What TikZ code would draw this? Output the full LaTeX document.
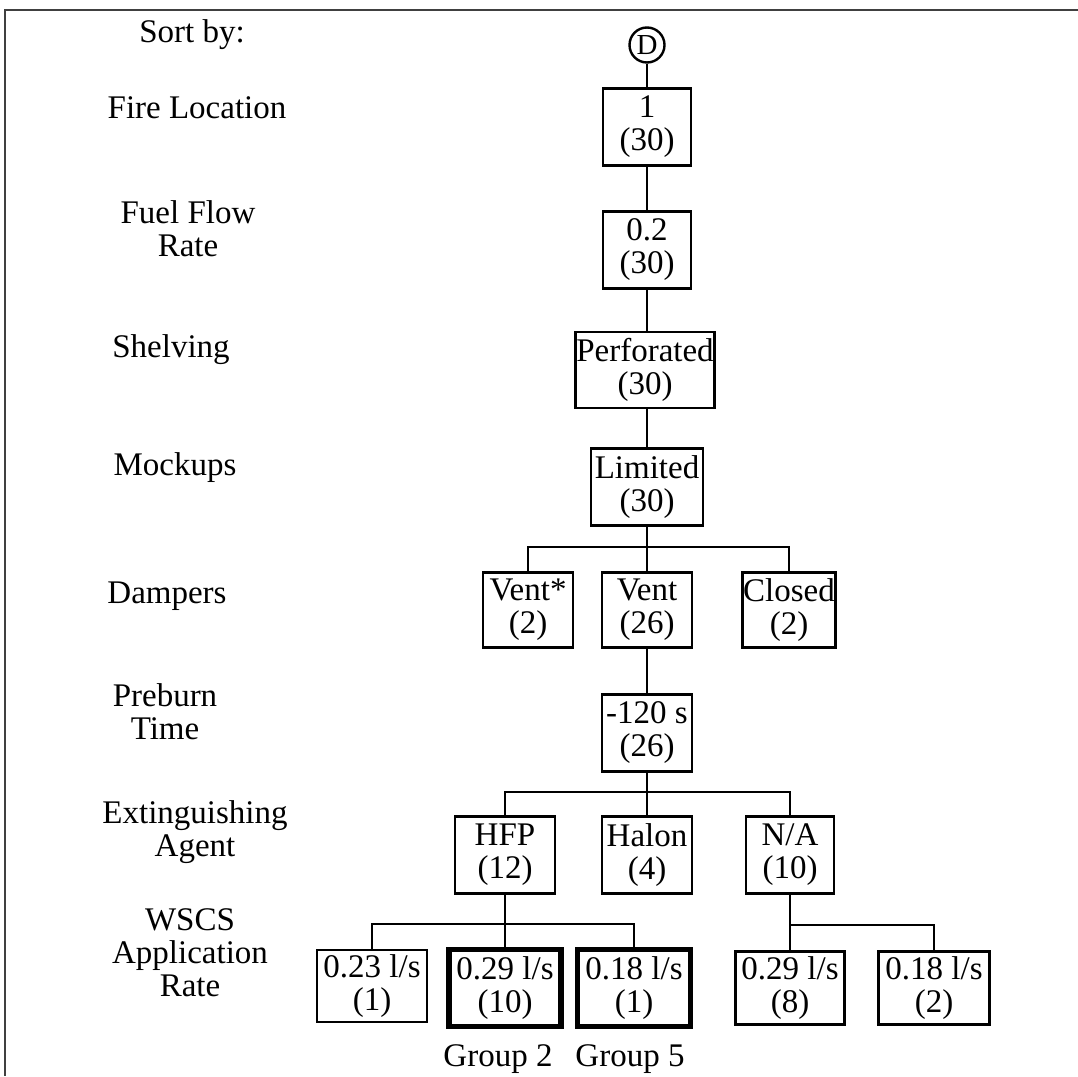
\documentclass[tikz,border=0pt]{standalone}
\usepackage{fontspec}
\setmainfont{Liberation Serif}
\usetikzlibrary{positioning}
\tikzset{box/.style={draw,line width=2.8pt,align=center,inner sep=0pt,minimum height=76pt},pick/.style={box,line width=5.5pt},cat/.style={align=center,inner sep=0pt},link/.style={line width=2.8pt}}

\begin{document}
\begin{tikzpicture}[x=1pt,y=-1pt,font=\fontsize{33}{33}\selectfont]
\useasboundingbox (0,0) rectangle (1078,1076);
\draw[line width=2.5pt,black!75] (1078,10) -- (5,10) -- (5,1076);
% sort criteria
\node[cat] (sort) at (192,35) {Sort by:};
\node[cat] (fire) at (197,108) {Fire Location};
\node[cat] (fuel) at (188,229) {Fuel Flow\\Rate};
\node[cat] (shelving) at (171,350) {Shelving};
\node[cat] (mockups) at (175,468) {Mockups};
\node[cat] (dampers) at (167,596) {Dampers};
\node[cat] (preburn) at (165,712) {Preburn\\Time};
\node[cat] (agent) at (195,832) {Extinguishing\\Agent};
\node[cat] (wscs) at (190,953) {WSCS\\Application\\Rate};
% tree
\node[draw,circle,line width=2.4pt,minimum size=35pt,inner sep=0pt,font=\fontsize{29}{29}\selectfont] (d) at (647,45) {D};
\node[box,minimum width=88pt,minimum height=77pt] (loc) at (647,127) {1\\(30)};
\node[box,minimum width=88pt,minimum height=77pt] (flow) at (647,250) {0.2\\(30)};
\node[box,minimum width=139pt] (shelf) at (645,370) {Perforated\\(30)};
\node[box,minimum width=112pt,minimum height=77pt] (mock) at (647,487) {Limited\\(30)};
\node[box,minimum width=90pt,minimum height=75pt] (dampA) at (528,610) {Vent*\\(2)};
\node[box,minimum width=90pt,minimum height=75pt] (dampB) at (647,610) {Vent\\(26)};
\node[box,minimum width=93pt,minimum height=75pt] (dampC) at (789,610) {Closed\\(2)};
\node[box,minimum width=90pt,minimum height=77pt] (pre) at (647,733) {-120 s\\(26)};
\node[box,minimum width=100pt,minimum height=77pt] (hfp) at (505,855) {HFP\\(12)};
\node[box,minimum width=90pt,minimum height=77pt] (halon) at (647,855) {Halon\\(4)};
\node[box,minimum width=88pt,minimum height=77pt] (na) at (790,855) {N/A\\(10)};
\node[box,minimum width=110pt,minimum height=72pt] (rA) at (372,986) {0.23 l/s\\(1)};
\node[pick,minimum width=112pt,minimum height=77pt] (rB) at (505,988) {0.29 l/s\\(10)};
\node[pick,minimum width=113pt,minimum height=77pt] (rC) at (634,988) {0.18 l/s\\(1)};
\node[box,minimum width=109pt,minimum height=73pt] (rD) at (790,988) {0.29 l/s\\(8)};
\node[box,minimum width=111pt,minimum height=73pt] (rE) at (934,988) {0.18 l/s\\(2)};
\node[cat] (g2) at (498,1059) {Group 2};
\node[cat] (g5) at (630,1059) {Group 5};
\coordinate (j1) at (647,547);
\coordinate (j2) at (647,792);
\coordinate (j3) at (505,924);
\coordinate (j4) at (790,925);
\draw[link] (d) -- (loc) -- (flow);
\draw[link] (flow) -- (flow|-shelf.north);
\draw[link] (mock|-shelf.south) -- (mock) -- (dampB) -- (pre) -- (halon);
\draw[link] (dampA) |- (j1) -| (dampC);
\draw[link] (hfp) |- (j2) -| (na);
\draw[link] (hfp) -- (rB);
\draw[link] (rA) |- (j3) -| (rC);
\draw[link] (na) -- (rD);
\draw[link] (j4) -| (rE);
\end{tikzpicture}
\end{document}
